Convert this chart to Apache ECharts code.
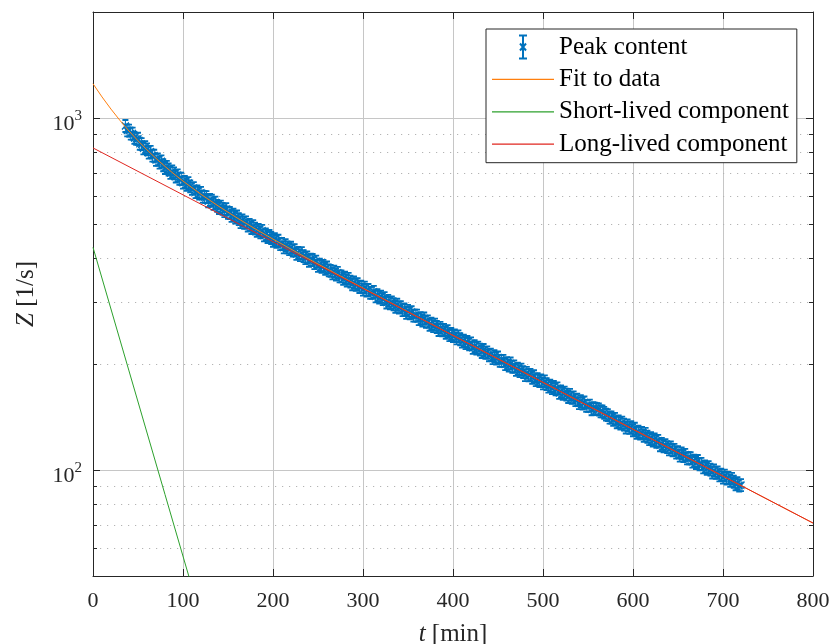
<!DOCTYPE html>
<html>
<head>
<meta charset="utf-8">
<script src="https://cdn.jsdelivr.net/npm/echarts@6/dist/echarts.min.js"></script>
<style>
  html, body { margin: 0; padding: 0; background: #ffffff; }
  #chart { width: 833px; height: 644px; }
</style>
</head>
<body>
<div id="chart"></div>
<script>
// Measured peak count rate Z [1/s] against time t [min]
const peakT = [
  36, 38, 40, 42, 44, 46, 48, 50, 52, 54, 56, 58, 60, 62, 64, 66, 68, 70, 72, 74,
  76, 78, 80, 82, 84, 86, 88, 90, 92, 94, 96, 98, 100, 102, 104, 106, 108, 110, 112, 114,
  116, 118, 120, 122, 124, 126, 128, 130, 132, 134, 136, 138, 140, 142, 144, 146, 148, 150, 152, 154,
  156, 158, 160, 162, 164, 166, 168, 170, 172, 174, 176, 178, 180, 182, 184, 186, 188, 190, 192, 194,
  196, 198, 200, 202, 204, 206, 208, 210, 212, 214, 216, 218, 220, 222, 224, 226, 228, 230, 232, 234,
  236, 238, 240, 242, 244, 246, 248, 250, 252, 254, 256, 258, 260, 262, 264, 266, 268, 270, 272, 274,
  276, 278, 280, 282, 284, 286, 288, 290, 292, 294, 296, 298, 300, 302, 304, 306, 308, 310, 312, 314,
  316, 318, 320, 322, 324, 326, 328, 330, 332, 334, 336, 338, 340, 342, 344, 346, 348, 350, 352, 354,
  356, 358, 360, 362, 364, 366, 368, 370, 372, 374, 376, 378, 380, 382, 384, 386, 388, 390, 392, 394,
  396, 398, 400, 402, 404, 406, 408, 410, 412, 414, 416, 418, 420, 422, 424, 426, 428, 430, 432, 434,
  436, 438, 440, 442, 444, 446, 448, 450, 452, 454, 456, 458, 460, 462, 464, 466, 468, 470, 472, 474,
  476, 478, 480, 482, 484, 486, 488, 490, 492, 494, 496, 498, 500, 502, 504, 506, 508, 510, 512, 514,
  516, 518, 520, 522, 524, 526, 528, 530, 532, 534, 536, 538, 540, 542, 544, 546, 548, 550, 552, 554,
  556, 558, 560, 562, 564, 566, 568, 570, 572, 574, 576, 578, 580, 582, 584, 586, 588, 590, 592, 594,
  596, 598, 600, 602, 604, 606, 608, 610, 612, 614, 616, 618, 620, 622, 624, 626, 628, 630, 632, 634,
  636, 638, 640, 642, 644, 646, 648, 650, 652, 654, 656, 658, 660, 662, 664, 666, 668, 670, 672, 674,
  676, 678, 680, 682, 684, 686, 688, 690, 692, 694, 696, 698, 700, 702, 704, 706, 708, 710, 712, 714,
  716, 718, 720
];
const peakZ = [
  949, 922, 921, 903, 903, 878, 872, 873, 845, 843, 820, 826, 814, 797, 801, 782, 781, 760, 762, 747,
  753, 734, 721, 726, 714, 698, 705, 696, 682, 687, 672, 672, 655, 658, 646, 653, 639, 629, 632, 616,
  619, 610, 613, 598, 597, 596, 580, 585, 582, 570, 575, 563, 555, 560, 552, 544, 551, 538, 537, 527,
  531, 521, 525, 516, 506, 512, 504, 505, 495, 497, 487, 493, 485, 478, 481, 473, 478, 464, 467, 459,
  462, 456, 448, 453, 445, 448, 438, 439, 429, 435, 429, 424, 428, 420, 421, 411, 414, 408, 413, 405,
  400, 402, 393, 396, 395, 387, 391, 380, 383, 378, 380, 373, 376, 369, 368, 362, 366, 359, 363, 355,
  355, 349, 352, 345, 349, 343, 337, 341, 336, 337, 331, 331.5, 325.5, 329.7, 323.4, 324.6, 318.4, 318.5, 320.7, 311.5,
  313.6, 308.7, 310.8, 305.9, 307.9, 299.1, 302.2, 297.5, 299.4, 295.7, 291.0, 294.8, 289.3, 290.3, 284.7, 285.8, 279.4, 283.2, 278.7, 280.6,
  274.4, 274.5, 274.6, 268.4, 270.1, 265.9, 269.4, 263.4, 264.4, 258.6, 260.3, 256.2, 258.8, 254.8, 249.9, 253.3, 249.3, 250.2, 245.4, 247.9,
  241.6, 243.4, 240.3, 241.2, 236.6, 239.8, 235.2, 231.5, 233.2, 229.4, 231.0, 227.4, 228.9, 222.4, 224.7, 221.2, 222.6, 219.9, 216.4, 219.3,
  215.2, 215.9, 211.8, 212.6, 207.9, 210.7, 207.4, 208.8, 204.2, 204.3, 204.3, 199.8, 201.3, 198.0, 200.7, 196.3, 197.0, 192.6, 193.9, 190.9,
  192.9, 189.8, 186.1, 188.7, 185.7, 186.4, 182.9, 184.7, 180.0, 181.3, 179.0, 179.7, 176.2, 178.6, 175.3, 172.5, 173.7, 170.9, 172.1, 169.4,
  170.5, 165.6, 167.3, 164.7, 165.9, 163.8, 161.2, 163.4, 160.3, 160.8, 157.9, 158.4, 154.9, 157.0, 154.5, 155.5, 152.1, 152.2, 152.3, 148.8,
  149.9, 149.5, 149.0, 148.6, 146.7, 146.8, 145.4, 143.7, 143.2, 140.9, 141.0, 138.8, 139.7, 136.7, 137.5, 135.4, 136.4, 134.6, 132.1, 133.9,
  131.8, 132.3, 129.7, 131.0, 127.6, 128.6, 127.0, 127.4, 125.0, 126.7, 124.3, 122.4, 123.2, 121.3, 122.1, 120.2, 121.0, 117.6, 118.7, 116.8,
  117.7, 116.2, 114.4, 115.9, 113.7, 114.1, 112.0, 112.4, 109.9, 111.4, 109.6, 110.4, 107.9, 108.0, 108.0, 105.7, 106.3, 104.7, 106.1, 103.8,
  104.1, 101.8, 102.4, 100.8, 101.9, 100.3, 98.4, 99.7, 98.1, 98.4, 96.6, 97.0, 95.2, 96.4, 94.6, 94.9, 93.1, 94.4, 92.6, 91.1,
  91.8, 90.3, 90.6
];

// Two-component exponential fit and its components
const fitT = [0, 10, 20, 30, 40, 50, 60, 70, 80, 90, 100, 120, 140, 160, 180, 200,
  240, 280, 320, 360, 400, 440, 480, 520, 560, 600, 640, 680, 720, 760, 800];
const fitZ = [1251, 1147.7, 1059.5, 983.8, 918.3, 861.4, 811.5, 767.5, 728.4, 693.3,
  661.8, 606.9, 560.5, 520.2, 484.7, 452.8, 397.2, 349.8, 308.8, 272.8, 241.2,
  213.3, 188.6, 166.8, 147.6, 130.5, 115.5, 102.1, 90.35, 79.9, 70.7];
const shortT = [0, 40, 80, 120];
const shortZ = [429, 191.2, 85.2, 38.0];
const longT = [0, 400, 800];
const longZ = [822, 241.1, 70.7];

// Minor grid values on the logarithmic axis
const minorZ = [60, 70, 80, 90, 200, 300, 400, 500, 600, 700, 800, 900];

const seriesNames = ['Peak content', 'Fit to data', 'Short-lived component', 'Long-lived component'];

const FONT = 'Liberation Serif';
const AXIS_COLOR = '#262626';
const GRID_COLOR = '#c6c6c6';
const BLUE = '#0072BD';
const ORANGE = '#ff7f0e';
const GREEN = '#2ca02c';
const RED = '#e0261f';

const pairs = (xs, ys) => xs.map((x, i) => [x, ys[i]]);

// error bar with cross marker
const errMarker = 'path://M0.5,0L6.5,0M3.5,0L3.5,12M0.5,12L6.5,12M0,2.5L7,9.5M7,2.5L0,9.5';
const errLegendIcon = 'path://M0,0L8,0M4,0L4,23M0,23L8,23M1,8L7,15M7,8L1,15';
const lineLegendIcon = 'path://M0,0H62V1.2H0Z';

const chart = echarts.init(document.getElementById('chart'), null, { renderer: 'canvas' });

const xBase = {
  type: 'value', min: 0, max: 800, interval: 100,
  axisLine: { show: true, onZero: false, lineStyle: { color: AXIS_COLOR, width: 1 } },
  axisTick: { show: true, inside: true, length: 7, lineStyle: { color: AXIS_COLOR } }
};
const yBase = {
  type: 'log', logBase: 10, min: 50, max: 2000,
  axisLine: { show: true, onZero: false, lineStyle: { color: AXIS_COLOR, width: 1 } },
  axisTick: { show: true, inside: true, length: 7, lineStyle: { color: AXIS_COLOR } }
};

const option = {
  backgroundColor: '#ffffff',
  animation: false,
  grid: { left: 93, right: 20, top: 12, bottom: 68, containLabel: false, outerBoundsMode: 'none' },
  legend: {
    orient: 'vertical',
    left: 486, top: 29,
    padding: [5.5, 8, 6, 6],
    itemWidth: 62, itemHeight: 23, itemGap: 7.4,
    symbolKeepAspect: true,
    backgroundColor: '#ffffff',
    borderColor: AXIS_COLOR, borderWidth: 1,
    textStyle: { fontFamily: FONT, fontSize: 25, color: '#000000', lineHeight: 23 },
    data: [
      { name: seriesNames[0], icon: errLegendIcon },
      { name: seriesNames[1], icon: lineLegendIcon },
      { name: seriesNames[2], icon: lineLegendIcon },
      { name: seriesNames[3], icon: lineLegendIcon }
    ]
  },
  xAxis: [
    Object.assign({}, xBase, {
      position: 'bottom',
      axisLabel: { margin: 14, fontFamily: FONT, fontSize: 22, color: AXIS_COLOR },
      splitLine: { show: true, lineStyle: { color: GRID_COLOR, width: 1 } },
      name: '{i|t} [min]',
      nameLocation: 'middle', nameGap: 46,
      nameTextStyle: {
        fontFamily: FONT, fontSize: 25, color: AXIS_COLOR,
        rich: { i: { fontFamily: FONT, fontSize: 25, fontStyle: 'italic', color: AXIS_COLOR } }
      }
    }),
    Object.assign({}, xBase, {
      position: 'top',
      axisLabel: { show: false },
      splitLine: { show: false }
    })
  ],
  yAxis: [
    Object.assign({}, yBase, {
      position: 'left',
      axisLabel: {
        margin: 11,
        padding: [8, 0, 0, 0],
        formatter: function (v) {
          const e = Math.round(Math.log10(v));
          if (Math.abs(v / Math.pow(10, e) - 1) > 1e-6) return '';
          return '{b|10}{s|' + e + '}';
        },
        rich: {
          b: { fontFamily: FONT, fontSize: 22, color: AXIS_COLOR, lineHeight: 26, verticalAlign: 'bottom' },
          s: { fontFamily: FONT, fontSize: 15, color: AXIS_COLOR, verticalAlign: 'top', lineHeight: 26 }
        }
      },
      splitLine: { show: true, lineStyle: { color: GRID_COLOR, width: 1 } },
      minorTick: { show: false },
      name: '{i|Z} [1/s]',
      nameLocation: 'middle', nameGap: 54, nameRotate: 90,
      nameTextStyle: {
        fontFamily: FONT, fontSize: 25, color: AXIS_COLOR,
        rich: { i: { fontFamily: FONT, fontSize: 25, fontStyle: 'italic', color: AXIS_COLOR } }
      }
    }),
    Object.assign({}, yBase, {
      position: 'right',
      axisLabel: { show: false },
      splitLine: { show: false }
    })
  ],
  series: [
    {
      // dotted minor grid with short inward ticks on both box edges
      type: 'custom',
      name: 'minor-grid',
      silent: true,
      z: 1,
      data: minorZ.map(v => [0, v]),
      encode: { x: 0, y: 1 },
      renderItem: function (params, api) {
        const y = Math.round(api.coord([0, api.value(1)])[1]) + 0.5;
        const cs = params.coordSys;
        const x0 = cs.x, x1 = cs.x + cs.width;
        return {
          type: 'group',
          children: [
            { type: 'line', shape: { x1: x0, y1: y, x2: x1, y2: y },
              style: { stroke: '#b4b4b4', lineWidth: 1.2, lineDash: [1.2, 5.8] } },
            { type: 'line', shape: { x1: x0, y1: y, x2: x0 + 4, y2: y },
              style: { stroke: AXIS_COLOR, lineWidth: 1 } },
            { type: 'line', shape: { x1: x1 - 4, y1: y, x2: x1, y2: y },
              style: { stroke: AXIS_COLOR, lineWidth: 1 } }
          ]
        };
      }
    },
    {
      name: seriesNames[0],
      type: 'scatter',
      data: pairs(peakT, peakZ),
      symbol: errMarker,
      symbolSize: [7, 12],
      itemStyle: { color: BLUE, borderColor: BLUE, borderWidth: 1.4, opacity: 1 },
      z: 2
    },
    {
      name: seriesNames[1],
      type: 'line',
      data: pairs(fitT, fitZ),
      showSymbol: false, symbol: 'none',
      lineStyle: { color: ORANGE, width: 1 },
      itemStyle: { color: ORANGE },
      z: 3
    },
    {
      name: seriesNames[2],
      type: 'line',
      data: pairs(shortT, shortZ),
      showSymbol: false, symbol: 'none',
      lineStyle: { color: GREEN, width: 1 },
      itemStyle: { color: GREEN },
      z: 3
    },
    {
      name: seriesNames[3],
      type: 'line',
      data: pairs(longT, longZ),
      showSymbol: false, symbol: 'none',
      lineStyle: { color: RED, width: 1 },
      itemStyle: { color: RED },
      z: 3
    }
  ]
};

chart.setOption(option);
</script>
</body>
</html>
